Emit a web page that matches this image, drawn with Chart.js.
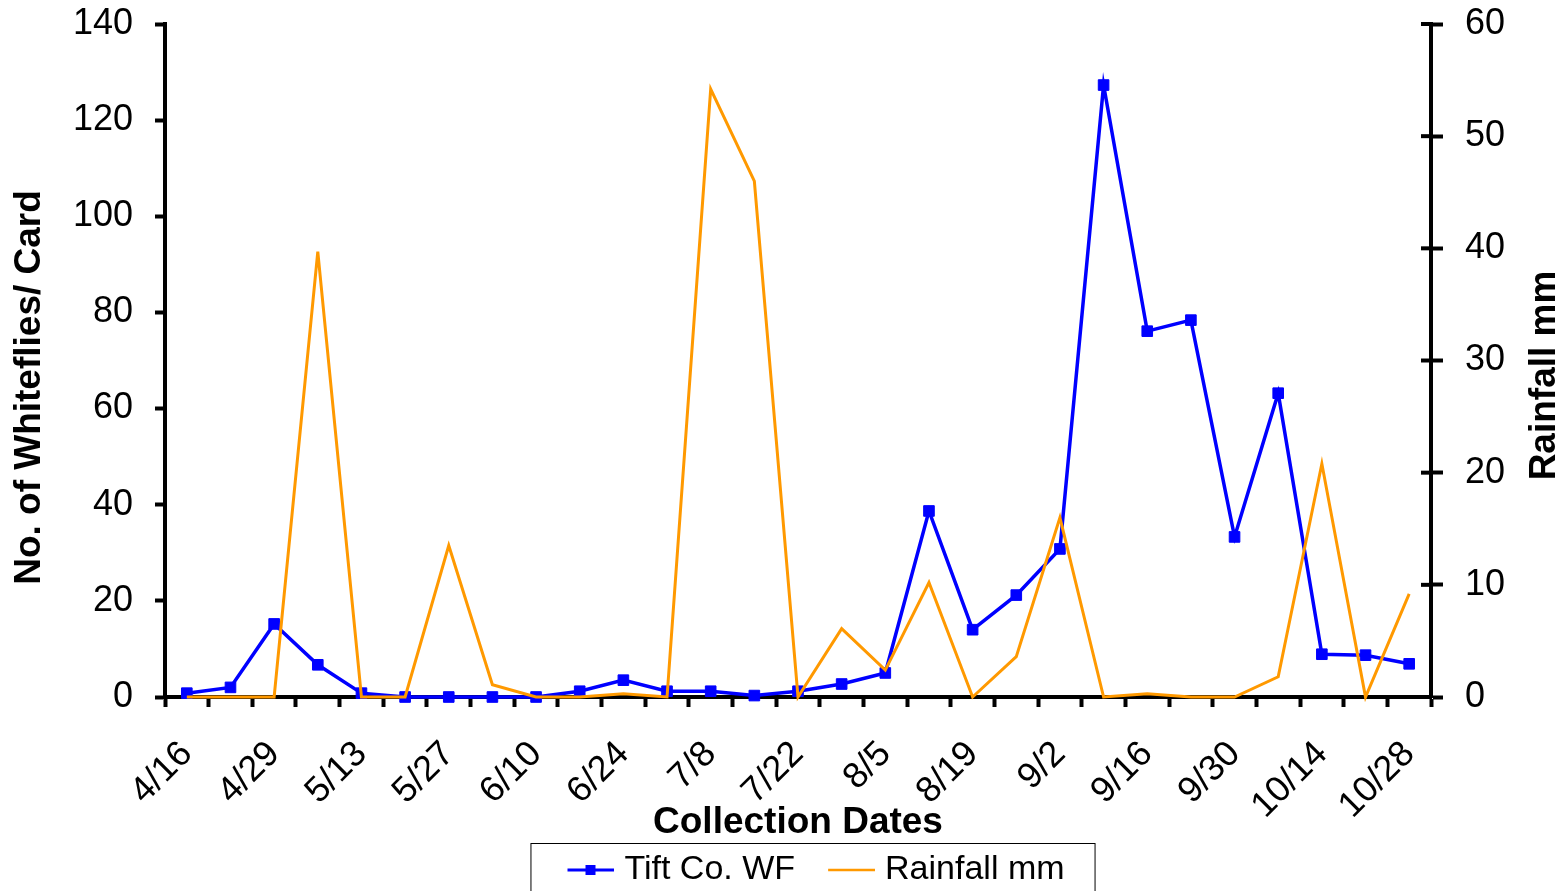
<!DOCTYPE html>
<html>
<head>
<meta charset="utf-8">
<title>Tift Co. whiteflies and rainfall</title>
<script src="https://cdn.jsdelivr.net/npm/chart.js@4.4.1/dist/chart.umd.min.js"></script>
<style>
  html, body { margin: 0; padding: 0; background: #fff; overflow: hidden; }
  #wrap { width: 1566px; height: 897px; }
</style>
</head>
<body>
<div id="wrap"><canvas id="wfChart" width="1566" height="897"></canvas></div>
<script>
/* ======================================================
   DATA
====================================================== */

const collectionDates = ['4/16', '4/22', '4/29', '5/6', '5/13', '5/20', '5/27', '6/3', '6/10', '6/17',
    '6/24', '7/1', '7/8', '7/15', '7/22', '7/29', '8/5', '8/12', '8/19', '8/26',
    '9/2', '9/9', '9/16', '9/23', '9/30', '10/7', '10/14', '10/21', '10/28'];

const tiftWF = [0.8, 2.0, 15.2, 6.7, 0.8, 0, 0, 0, 0, 1.2,
    3.5, 1.2, 1.2, 0.3, 1.2, 2.7, 5.0, 38.7, 14.0, 21.2,
    30.8, 127.3, 76.1, 78.4, 33.3, 63.2, 8.9, 8.7, 6.9];

const rainfallMm = [0, 0, 0, 39.7, 0, 0, 13.5, 1.1, 0, 0,
    0.3, 0, 54.2, 46.0, 0, 6.1, 2.4, 10.2, 0, 3.6,
    16.0, 0, 0.3, 0, 0, 1.8, 20.8, 0, 9.2];

const seriesNames = ['Tift Co. WF', 'Rainfall mm'];
const leftTicks = [0, 20, 40, 60, 80, 100, 120, 140];
const rightTicks = [0, 10, 20, 30, 40, 50, 60];
const xTitle = 'Collection Dates';
const leftTitle = 'No. of Whiteflies/ Card';
const rightTitle = 'Rainfall mm';

/* ======================================================
   STYLE
====================================================== */

const FONT = '"Liberation Sans", Arial, Helvetica, sans-serif';
const BLUE = '#0000FF';
const ORANGE = '#FF9900';
const AXIS_W = 4;

// little line (+ marker) pictures for the legend
function legendSwatch(colour, lineW, withMarker) {
    const c = document.createElement('canvas');
    c.width = 62;
    c.height = 14;
    const g = c.getContext('2d');
    g.strokeStyle = colour;
    g.lineWidth = lineW;
    g.beginPath();
    g.moveTo(15, 7);
    g.lineTo(62, 7);
    g.stroke();
    if (withMarker) {
        g.fillStyle = colour;
        g.fillRect(33, 2, 10, 10);
    }
    return c;
}
const swatches = [legendSwatch(BLUE, 3, true), legendSwatch(ORANGE, 2.5, false)];

function drawUpTitle(ctx, text, x, y) {
    ctx.save();
    ctx.font = 'bold 37px ' + FONT;
    ctx.fillStyle = '#000';
    ctx.textAlign = 'center';
    ctx.textBaseline = 'middle';
    ctx.translate(x, y);
    ctx.rotate(-Math.PI / 2);
    ctx.fillText(text, 0, 0);
    ctx.restore();
}

// fixed axis widths, and no extra room kept above/below for the end labels
function pinWidth(w) {
    return (scale) => {
        scale.width = w;
        scale.paddingTop = 0;
        scale.paddingBottom = 0;
    };
}

// bits Chart.js does not draw the Excel way: crossing ticks on the
// rainfall axis, both axis titles reading upwards, the frame round the legend
const excelExtras = {
    id: 'excelExtras',
    afterDraw(chart) {
        const ctx = chart.ctx;
        const y1 = chart.scales.y1;
        const area = chart.chartArea;
        const midY = (area.top + area.bottom) / 2;

        ctx.save();
        ctx.strokeStyle = '#000';
        ctx.lineWidth = AXIS_W;
        y1.ticks.forEach((t, i) => {
            const py = y1.getPixelForTick(i);
            ctx.beginPath();
            ctx.moveTo(y1.left - 10, py);
            ctx.lineTo(y1.left, py);
            ctx.stroke();
        });
        ctx.restore();

        drawUpTitle(ctx, leftTitle, area.left - 135, midY + 27);
        drawUpTitle(ctx, rightTitle, y1.right - 21, midY + 15);

        const boxes = chart.legend.legendHitBoxes;
        if (boxes && boxes.length) {
            const first = boxes[0];
            const last = boxes[boxes.length - 1];
            const left = first.left - 29;
            const right = last.left + last.width + 30;
            ctx.save();
            ctx.strokeStyle = '#000';
            ctx.lineWidth = 1;
            ctx.strokeRect(left + 0.5, chart.legend.top + 15.5, right - left, 60);
            ctx.restore();
        }
    }
};

/* ======================================================
   CHART
====================================================== */

const ctx = document.getElementById('wfChart').getContext('2d');

new Chart(ctx, {
    type: 'line',
    data: {
        labels: collectionDates,
        datasets: [
            {
                label: seriesNames[0],
                data: tiftWF,
                yAxisID: 'y',
                borderColor: BLUE,
                backgroundColor: BLUE,
                borderWidth: 3.5,
                pointStyle: 'rect',
                pointRadius: 7.5,
                pointBorderWidth: 1,
                pointBackgroundColor: BLUE,
                pointBorderColor: BLUE,
                tension: 0,
                clip: false,
                order: 1
            },
            {
                label: seriesNames[1],
                data: rainfallMm,
                yAxisID: 'y1',
                borderColor: ORANGE,
                backgroundColor: ORANGE,
                borderWidth: 3,
                pointRadius: 0,
                tension: 0,
                clip: false,
                order: 0
            }
        ]
    },
    options: {
        responsive: false,
        animation: false,
        devicePixelRatio: 1,
        layout: { padding: { top: 24, left: 58, right: 0, bottom: 0 } },
        plugins: {
            tooltip: { enabled: false },
            legend: {
                position: 'bottom',
                align: 'center',
                labels: {
                    usePointStyle: true,
                    pointStyleWidth: 48,
                    padding: 25,
                    color: '#000',
                    font: { family: FONT, size: 34 },
                    generateLabels: (chart) => chart.data.datasets.map((ds, i) => ({
                        text: ds.label,
                        fillStyle: ds.borderColor,
                        strokeStyle: ds.borderColor,
                        lineWidth: 0,
                        pointStyle: swatches[i],
                        fontColor: '#000',
                        hidden: false,
                        datasetIndex: i
                    }))
                }
            }
        },
        scales: {
            x: {
                type: 'category',
                offset: true,
                afterFit: (scale) => { scale.height = 131; },
                grid: {
                    offset: true,
                    drawOnChartArea: false,
                    drawTicks: true,
                    tickLength: 10,
                    tickWidth: AXIS_W,
                    tickColor: '#000'
                },
                border: { display: true, color: '#000', width: AXIS_W },
                ticks: {
                    autoSkip: false,
                    minRotation: 45,
                    maxRotation: 45,
                    padding: 26,
                    color: '#000',
                    font: { family: FONT, size: 36 },
                    callback: (value, i) => (i % 2 === 0 ? collectionDates[i] : '')
                },
                title: {
                    display: true,
                    text: xTitle,
                    color: '#000',
                    font: { family: FONT, size: 37, weight: 'bold' },
                    padding: { top: 0, bottom: -17 }
                }
            },
            y: {
                position: 'left',
                min: 0,
                max: 140,
                afterFit: pinWidth(107),
                afterBuildTicks: (scale) => { scale.ticks = leftTicks.map(v => ({ value: v })); },
                grid: {
                    drawOnChartArea: false,
                    tickLength: 10,
                    tickWidth: AXIS_W,
                    tickColor: '#000'
                },
                border: { display: true, color: '#000', width: AXIS_W },
                ticks: {
                    padding: 22,
                    color: '#000',
                    font: { family: FONT, size: 36 }
                },
                title: { display: false }
            },
            y1: {
                position: 'right',
                min: 0,
                max: 60,
                afterFit: pinWidth(135),
                afterBuildTicks: (scale) => { scale.ticks = rightTicks.map(v => ({ value: v })); },
                grid: {
                    drawOnChartArea: false,
                    tickLength: 12,
                    tickWidth: AXIS_W,
                    tickColor: '#000'
                },
                border: { display: true, color: '#000', width: AXIS_W },
                ticks: {
                    padding: 22,
                    color: '#000',
                    font: { family: FONT, size: 36 }
                },
                title: { display: false }
            }
        }
    },
    plugins: [excelExtras]
});
</script>
</body>
</html>
